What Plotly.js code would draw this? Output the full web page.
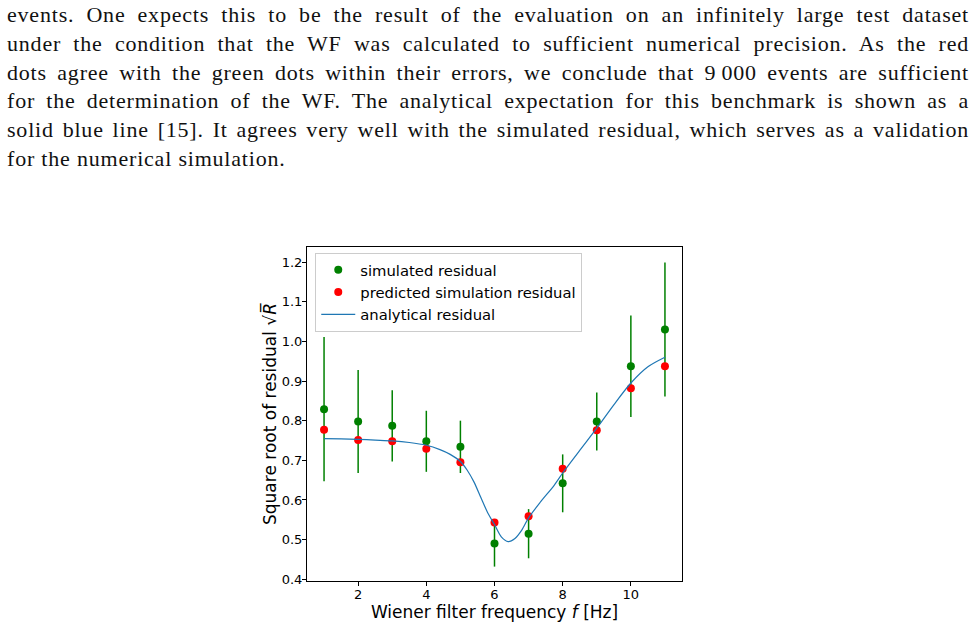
<!DOCTYPE html>
<html>
<head>
<meta charset="utf-8">
<script src="https://cdn.plot.ly/plotly-3.0.1.min.js"></script>
<style>
  html, body { margin: 0; padding: 0; background: #ffffff; }
  #page { position: relative; width: 976px; height: 625px; overflow: hidden; }
  #text {
    position: absolute; left: 7px; top: 1px; width: 962px;
    font-family: "Liberation Serif", "DejaVu Serif", serif;
    font-size: 22px; line-height: 28.8px; color: #111111; letter-spacing: 0.8px;
  }
  #text .ln { text-align: justify; text-align-last: justify; white-space: nowrap; }
  #text .ln.last { text-align: left; text-align-last: left; }
  #chart { position: absolute; left: 0; top: 0; width: 976px; height: 625px; }
</style>
</head>
<body>
<div id="page">
  <div id="chart"></div>
  <div id="text">
    <div class="ln">events. One expects this to be the result of the evaluation on an infinitely large test dataset</div>
    <div class="ln">under the condition that the WF was calculated to sufficient numerical precision. As the red</div>
    <div class="ln">dots agree with the green dots within their errors, we conclude that 9&#8201;000 events are sufficient</div>
    <div class="ln">for the determination of the WF. The analytical expectation for this benchmark is shown as a</div>
    <div class="ln">solid blue line [15]. It agrees very well with the simulated residual, which serves as a validation</div>
    <div class="ln last">for the numerical simulation.</div>
  </div>
</div>
<script>
// Wiener filter frequency (Hz) of each benchmark point
const freq = [1, 2, 3, 4, 5, 6, 7, 8, 9, 10, 11];

// simulated residual sqrt(R) with its uncertainty
const simulated = [0.829, 0.798, 0.787, 0.748, 0.734, 0.490, 0.515, 0.642, 0.798, 0.937, 1.030];
const simulatedErr = [0.182, 0.130, 0.090, 0.077, 0.066, 0.058, 0.062, 0.073, 0.073, 0.128, 0.169];

// predicted simulation residual
const predicted = [0.777, 0.751, 0.748, 0.729, 0.695, 0.543, 0.559, 0.679, 0.776, 0.882, 0.937];

// analytical residual curve
const curveF = [1, 1.5, 2, 2.5, 3, 3.5, 4, 4.4, 4.7, 5, 5.2, 5.4, 5.6, 5.8, 6.0, 6.2, 6.4, 6.6, 6.8, 7.0, 7.35, 7.75, 8, 8.5, 9, 9.5, 10, 10.5, 11];
const curveR = [0.755, 0.754, 0.753, 0.751, 0.749, 0.745, 0.738, 0.727, 0.715, 0.697, 0.675, 0.645, 0.606, 0.568, 0.538, 0.507, 0.495, 0.503, 0.524, 0.555, 0.595, 0.637, 0.668, 0.725, 0.781, 0.840, 0.895, 0.936, 0.960];

const FONT = "DejaVu Sans, Verdana, sans-serif";

const traces = [
  {
    x: freq, y: simulated, type: "scatter", mode: "markers",
    name: "simulated residual",
    marker: { color: "#008000", size: 8 },
    error_y: { type: "data", array: simulatedErr, visible: true, color: "#008000", thickness: 1.5, width: 0 }
  },
  {
    x: freq, y: predicted, type: "scatter", mode: "markers",
    name: "predicted simulation residual",
    marker: { color: "#ff0000", size: 8 }
  },
  {
    x: curveF, y: curveR, type: "scatter", mode: "lines",
    name: "analytical residual",
    line: { color: "#1f77b4", width: 1.2, shape: "spline", smoothing: 0.8 }
  }
];

const axisCommon = {
  showline: true, mirror: true, linecolor: "#000000", linewidth: 1,
  ticks: "outside", ticklen: 4, tickwidth: 1, tickcolor: "#000000",
  showgrid: false, zeroline: false,
  tickfont: { family: FONT, size: 13, color: "#000000" }
};

const layout = {
  width: 976, height: 625,
  paper_bgcolor: "rgba(0,0,0,0)", plot_bgcolor: "#ffffff",
  margin: { l: 307, r: 294, t: 247, b: 44 },
  showlegend: true,
  legend: {
    x: 0.022, y: 0.983, xanchor: "left", yanchor: "top",
    bgcolor: "rgba(255,255,255,0.8)", bordercolor: "#cccccc", borderwidth: 1,
    font: { family: FONT, size: 14.8, color: "#000000" },
    itemwidth: 34
  },
  xaxis: Object.assign({}, axisCommon, {
    range: [0.5, 11.5], tick0: 0, dtick: 2, ticklabelstandoff: -3,
    title: { text: "Wiener filter frequency <i>f</i> [Hz]", font: { family: FONT, size: 17, color: "#000000" }, standoff: 0 }
  }),
  yaxis: Object.assign({}, axisCommon, {
    range: [0.3957, 1.238], tick0: 0.4, dtick: 0.1, tickformat: ".1f", ticklabelstandoff: -3,
    title: { text: "Square root of residual \u221A<i>R\u0305</i>", font: { family: FONT, size: 17, color: "#000000" }, standoff: 0 }
  })
};

Plotly.newPlot("chart", traces, layout, { displayModeBar: false, staticPlot: true });
</script>
</body>
</html>
